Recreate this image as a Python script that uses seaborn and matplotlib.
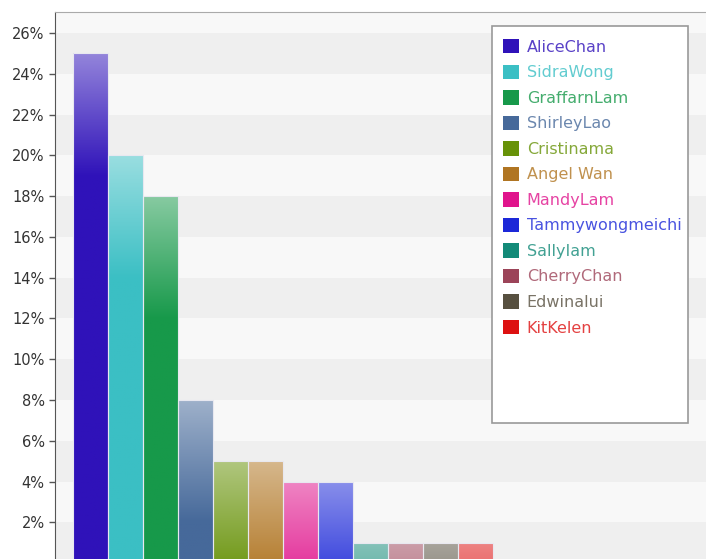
import numpy as np
import matplotlib
matplotlib.use('Agg')
import matplotlib.pyplot as plt
import matplotlib.colors as mcolors
from matplotlib.patches import Patch, Rectangle
import seaborn as sns

# data
names = ['AliceChan', 'SidraWong', 'GraffarnLam', 'ShirleyLao', 'Cristinama',
         'Angel Wan', 'MandyLam', 'Tammywongmeichi', 'SallyIam', 'CherryChan',
         'Edwinalui', 'KitKelen']
values = [25, 20, 18, 8, 5, 5, 4, 4, 1, 1, 1, 1]
colors = ['#2f12b9', '#3bbfc4', '#17994a', '#46699a', '#679208', '#b07522',
          '#e0148c', '#1c28d8', '#138a78', '#9c4459', '#575040', '#dd1111']

sns.set_style('white')
plt.rcParams['font.family'] = ['DejaVu Sans']

fig = plt.figure(figsize=(7.06, 5.59), dpi=100)
ax = fig.add_axes([55 / 706, 0, 1 - 55 / 706, 547 / 559])

sns.barplot(x=names, y=values, hue=names, palette=colors, legend=False,
            saturation=1, width=1, edgecolor='#e8e8f0', linewidth=0.8,
            ax=ax, zorder=2)
bars = list(ax.patches)

# alternating background bands
for lo in range(0, 28, 4):
    ax.axhspan(lo, lo + 2, color='#efefef', zorder=0, lw=0)
    ax.axhspan(lo + 2, lo + 4, color='#f8f8f8', zorder=0, lw=0)

# gradient fill: light at the top, fading to the base colour over ~6%
for patch, c in zip(bars, colors):
    base = np.array(mcolors.to_rgb(c))
    x0, y0 = patch.get_x(), patch.get_y()
    w, h = patch.get_width(), patch.get_height()
    yy = np.linspace(y0, y0 + h, 200)[:, None]
    depth = (y0 + h) - yy
    mix = 0.48 * np.clip(1 - depth / 6.0, 0, 1)
    grad = base * (1 - mix) + mix
    im = ax.imshow(grad[:, None, :], extent=[x0, x0 + w, y0, y0 + h],
                   origin='lower', aspect='auto', zorder=2)
    im.set_clip_path(patch)
    patch.set_facecolor('none')
    patch.set_zorder(3)

ax.set_xlim(-1.01, 17.59)
ax.set_ylim(0.2, 27.03)
ax.set_yticks(range(2, 27, 2))
ax.set_yticklabels([f'{v}%' for v in range(2, 27, 2)])
ax.set_xticks([])
ax.set_xlabel('')
ax.tick_params(axis='y', length=4, width=1, color='#555555', labelsize=10.5,
               labelcolor='#333333', left=True)
ax.spines['left'].set_color('#555555')
ax.spines['top'].set_color('#aaaaaa')
ax.spines['right'].set_visible(False)
ax.spines['bottom'].set_visible(False)

# legend box
ax.add_patch(Rectangle((0.671, 0.2495), 0.301, 0.724, transform=ax.transAxes,
                       facecolor='white', edgecolor='#999999', lw=1.2, zorder=4))
handles = [Patch(facecolor=c, edgecolor='none') for c in colors]
text_colors = [tuple(np.array(mcolors.to_rgb(c)) * 0.8 + 0.2) for c in colors]
leg = ax.legend(handles, names, loc='upper left', bbox_to_anchor=(0.678, 0.962),
                frameon=False, fontsize=11.5, handlelength=1.0, handleheight=1.0,
                handletextpad=0.5, labelspacing=0.62, labelcolor=text_colors,
                borderaxespad=0)
leg.set_zorder(5)

fig.savefig('out.png', dpi=100)
